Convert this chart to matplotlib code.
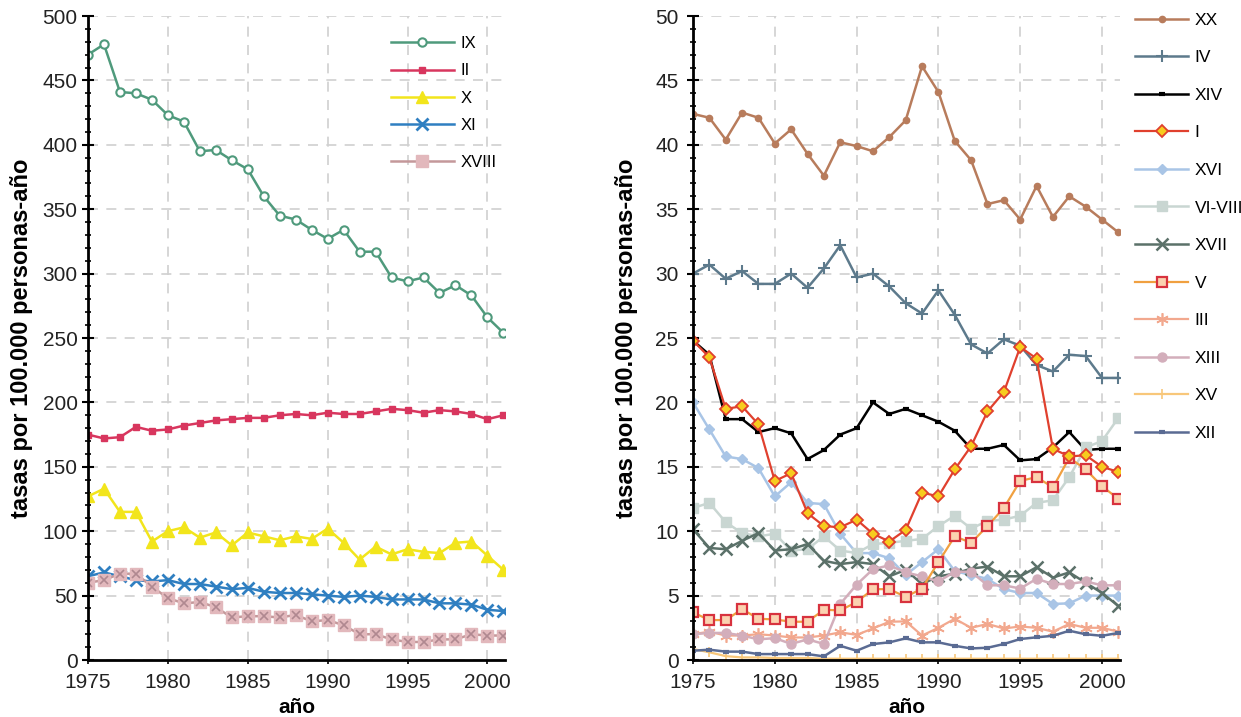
import matplotlib
matplotlib.use("Agg")
import matplotlib.pyplot as plt
from matplotlib.ticker import MultipleLocator

plt.rcParams['font.family'] = ['Liberation Sans', 'DejaVu Sans']

years = list(range(1975, 2002))

# ---- left panel data ----
IX = [470, 478, 441, 440, 435, 423, 418, 395, 396, 388, 381, 360, 345, 342, 334, 327,
      334, 317, 317, 297, 294, 297, 285, 291, 283, 266, 254]
II = [175, 172, 173, 181, 178, 179, 182, 184, 186, 187, 188, 188, 190, 191, 190, 192,
      191, 191, 193, 195, 194, 192, 194, 193, 191, 187, 190]
X = [127, 133, 115, 115, 92, 100, 103, 95, 99, 89, 99, 96, 93, 96, 94, 102,
     91, 78, 88, 82, 86, 84, 83, 91, 92, 81, 70]
XI = [65, 68, 65, 62, 61, 62, 59, 59, 57, 55, 56, 53, 52, 52, 51, 50,
      49, 50, 49, 47, 47, 47, 44, 44, 43, 39, 38]
XVIII = [60, 62, 67, 67, 57, 48, 44, 45, 41, 33, 34, 34, 33, 35, 30, 31,
         27, 20, 20, 16, 14, 14, 16, 16, 20, 19, 19]

# ---- right panel data ----
XX = [42.4, 42.1, 40.4, 42.5, 42.1, 40.1, 41.2, 39.3, 37.6, 40.2, 39.9, 39.5, 40.6, 41.9,
      46.1, 44.1, 40.3, 38.8, 35.4, 35.7, 34.2, 36.8, 34.4, 36.0, 35.2, 34.2, 33.2]
IV = [30.0, 30.7, 29.6, 30.2, 29.2, 29.2, 30.0, 28.9, 30.4, 32.2, 29.7, 30.0, 29.0, 27.7,
      26.9, 28.7, 26.8, 24.5, 23.8, 24.9, 24.4, 22.9, 22.4, 23.7, 23.6, 21.9, 21.9]
XIV = [24.8, 23.7, 18.7, 18.7, 17.7, 18.0, 17.6, 15.6, 16.3, 17.5, 18.0, 20.0, 19.1, 19.5,
       19.0, 18.5, 17.8, 16.4, 16.4, 16.7, 15.5, 15.6, 16.5, 17.7, 16.3, 16.4, 16.4]
I = [24.8, 23.5, 19.5, 19.7, 18.3, 13.9, 14.5, 11.4, 10.4, 10.3, 10.9, 9.8, 9.2, 10.1,
     13.0, 12.7, 14.8, 16.6, 19.3, 20.8, 24.3, 23.4, 16.4, 15.8, 15.9, 15.0, 14.6]
XVI = [20.0, 17.9, 15.8, 15.6, 14.9, 12.7, 13.8, 12.2, 12.1, 9.8, 8.3, 8.3, 7.9, 6.6,
       7.6, 8.6, 6.9, 6.6, 6.3, 5.5, 5.2, 5.2, 4.35, 4.4, 5.0, 5.0, 5.0]
VI_VIII = [11.8, 12.2, 10.7, 9.85, 9.6, 9.8, 8.5, 8.6, 9.6, 8.5, 8.3, 9.0, 9.1, 9.25,
           9.4, 10.4, 11.2, 10.2, 10.8, 10.9, 11.2, 12.2, 12.4, 14.2, 16.5, 17.0, 18.8]
XVII = [10.15, 8.7, 8.6, 9.25, 9.85, 8.5, 8.6, 9.0, 7.7, 7.45, 7.6, 7.45, 6.5, 7.0,
        5.9, 6.5, 6.7, 7.1, 7.25, 6.5, 6.5, 7.2, 6.4, 6.8, 6.0, 5.2, 4.2]
V = [3.7, 3.1, 3.1, 3.95, 3.2, 3.15, 2.97, 2.97, 3.9, 3.85, 4.5, 5.5, 5.5, 4.9,
     5.55, 7.6, 9.6, 9.1, 10.4, 11.8, 13.9, 14.2, 13.4, 15.7, 14.8, 13.5, 12.5]
III = [2.0, 2.2, 1.9, 1.9, 2.0, 1.9, 1.75, 1.75, 1.9, 2.15, 1.95, 2.45, 2.97, 3.0,
       1.9, 2.5, 3.2, 2.5, 2.8, 2.45, 2.6, 2.5, 2.2, 2.8, 2.5, 2.5, 2.2]
XIII = [2.0, 2.1, 2.1, 1.9, 1.6, 1.7, 1.25, 1.6, 1.25, 4.35, 5.85, 7.05, 7.35, 6.8,
        6.5, 6.1, 6.85, 6.85, 5.8, 5.8, 5.55, 6.3, 5.9, 5.9, 6.1, 5.8, 5.8]
XV = [0.85, 0.6, 0.3, 0.2, 0.2, 0.15, 0.15, 0.15, 0.1, 0.1, 0.1, 0.1, 0.1, 0.1,
      0.1, 0.1, 0.1, 0.1, 0.1, 0.1, 0.1, 0.1, 0.1, 0.1, 0.1, 0.1, 0.1]
XII = [0.72, 0.8, 0.65, 0.65, 0.46, 0.46, 0.46, 0.46, 0.28, 1.1, 0.72, 1.24, 1.37, 1.68,
       1.37, 1.37, 1.1, 0.9, 0.95, 1.24, 1.63, 1.76, 1.88, 2.27, 2.0, 1.88, 2.1]

fig = plt.figure(figsize=(12.41, 7.17), dpi=100)
axL = fig.add_axes([88 / 1241, 1 - 660 / 717, (505 - 88) / 1241, (660 - 16) / 717])
axR = fig.add_axes([693 / 1241, 1 - 660 / 717, (1120 - 693) / 1241, (660 - 16) / 717])


def style_axes(ax, ymax, major, minor, ylpad, ypad):
    ax.set_xlim(1975, 2001.1)
    ax.set_ylim(0, ymax)
    ax.xaxis.set_major_locator(MultipleLocator(5))
    ax.yaxis.set_major_locator(MultipleLocator(major))
    ax.yaxis.set_minor_locator(MultipleLocator(minor))
    for s in ['top', 'right']:
        ax.spines[s].set_visible(False)
    for s in ['left', 'bottom']:
        ax.spines[s].set_linewidth(2)
        ax.spines[s].set_color('black')
    ax.grid(True, which='major', linestyle=(0, (6, 5)), color='#d0d0d0', linewidth=1.2)
    ax.set_axisbelow(True)
    ax.tick_params(axis='y', which='major', direction='inout', length=9, width=1.5,
                   labelsize=15, colors='black', pad=ypad, labelcolor='#222222')
    ax.tick_params(axis='y', which='minor', direction='inout', length=5, width=1.2)
    ax.tick_params(axis='x', which='major', direction='out', length=3, width=1.2,
                   labelsize=15, pad=6, labelcolor='#222222')
    ax.set_xlabel('año', fontsize=15, fontweight='bold', labelpad=5)
    ax.set_ylabel('tasas por 100.000 personas-año', fontsize=17, fontweight='bold',
                  labelpad=ylpad)


style_axes(axL, 500, 50, 10, 7, 3)
style_axes(axR, 50, 5, 1, 12, 6)

# left panel series
hIX, = axL.plot(years, IX, color='#4f9a7c', lw=1.8, marker='o', ms=6, mfc='white',
                mec='#4f9a7c', mew=1.5, label='IX')
hII, = axL.plot(years, II, color='#d8365e', lw=1.8, marker='s', ms=5, mfc='#d8365e',
                mec='#d8365e', label='II')
hX, = axL.plot(years, X, color='#f2e51c', lw=1.8, marker='^', ms=8, mfc='#f2e51c',
               mec='#f2e51c', label='X')
hXI, = axL.plot(years, XI, color='#2f7fc1', lw=1.8, marker='x', ms=8, mew=2, label='XI')
hXVIII, = axL.plot(years, XVIII, color='#c4989a', lw=1.8, marker='s', ms=8, mfc='#e2b8bc',
                   mec='#e2b8bc', label='XVIII')
axL.plot(years, XVIII, color='none', lw=0, marker='x', ms=6, mec='#b08890', mew=1.2)

leg1 = axL.legend([hIX, hII, hX, hXI], ['IX', 'II', 'X', 'XI'], loc='upper left',
                  bbox_to_anchor=(0.69, 0.992), frameon=False, fontsize=12,
                  handlelength=3.8, labelspacing=0.74, handletextpad=0.4)
axL.add_artist(leg1)
axL.legend([hXVIII], ['XVIII'], loc='upper left', bbox_to_anchor=(0.69, 0.808),
           frameon=False, fontsize=12, handlelength=3.8, handletextpad=0.4)

# right panel series
axR.plot(years, XX, color='#b87c5c', lw=1.8, marker='o', ms=4.5, label='XX')
axR.plot(years, IV, color='#5d7a8c', lw=1.8, marker='+', ms=8, mew=1.5, label='IV')
axR.plot(years, XIV, color='black', lw=1.8, marker='_', ms=5, mew=3, label='XIV')
axR.plot(years, XVI, color='#a9c5e6', lw=1.8, marker='D', ms=5.5, mfc='#a9c5e6',
         mec='#a9c5e6', label='XVI')
axR.plot(years, VI_VIII, color='#c9d6d2', lw=1.8, marker='s', ms=6.5, mfc='#c9d6d2',
         mec='#c9d6d2', label='VI-VIII')
axR.plot(years, XVII, color='#5b7169', lw=1.8, marker='x', ms=8, mew=1.8, label='XVII')
axR.plot(years, III, color='#f2a88e', lw=1.6, marker=(6, 2, 0), ms=9, mew=1.2,
         label='III')
axR.plot(years, XIII, color='#d3aebb', lw=1.8, marker='o', ms=6.5, label='XIII')
axR.plot(years, XV, color='#f8c77a', lw=1.6, marker='|', ms=7, mew=1.2, label='XV')
axR.plot(years, XII, color='#5a6b93', lw=1.8, marker='_', ms=5, mew=3, label='XII')
axR.plot(years, V, color='#f0a040', lw=1.6, marker='s', ms=7, mfc='#fbd2b0',
         mec='#d8323e', mew=1.6, label='V')
axR.plot(years, I, color='#e0402e', lw=1.6, marker='D', ms=6, mfc='#f7cc1e',
         mec='#e0402e', mew=1.3, label='I')

order = ['XX', 'IV', 'XIV', 'I', 'XVI', 'VI-VIII', 'XVII', 'V', 'III', 'XIII', 'XV', 'XII']
h, l = axR.get_legend_handles_labels()
hm = dict(zip(l, h))
axR.legend([hm[k] for k in order], order, loc='upper left', bbox_to_anchor=(1.02, 1.016),
           frameon=False, fontsize=12.5, handlelength=3.0, labelspacing=1.29,
           handletextpad=0.4, borderaxespad=0)

fig.savefig('out.png', dpi=100)
